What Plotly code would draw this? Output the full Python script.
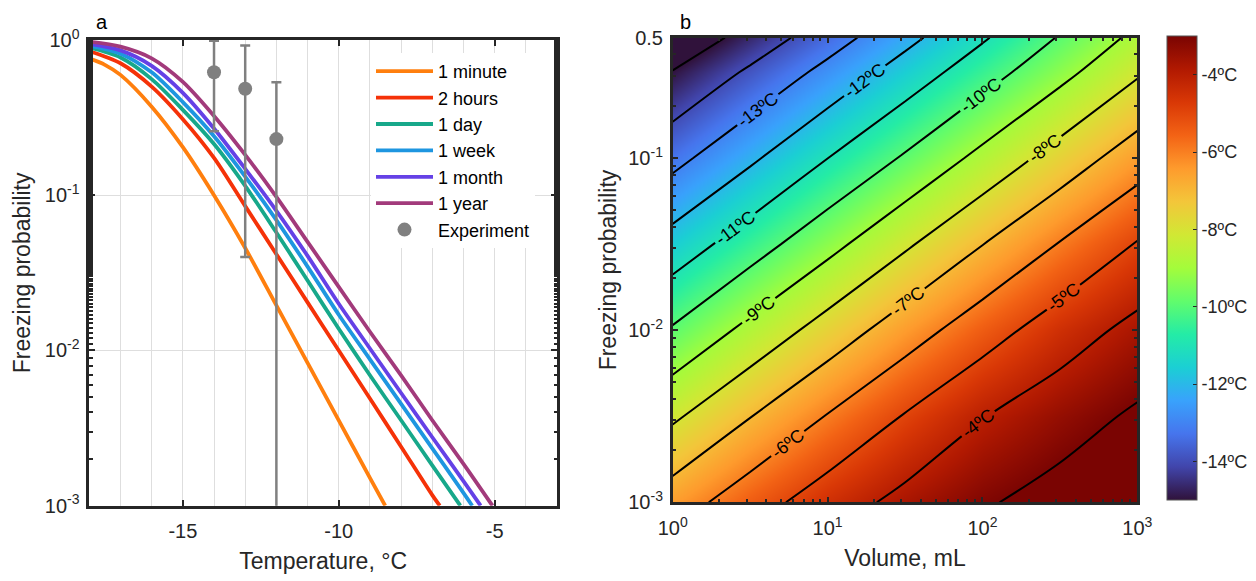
import numpy as np
import plotly.graph_objects as go

# ---------------- Panel a: freezing probability vs temperature ----------------
T_1min = [-18, -17.5, -17, -16, -15, -14, -13, -12, -11, -10, -9, -8.51]
P_1min = [0.762, 0.692, 0.596, 0.372, 0.204, 0.100, 0.0457, 0.0195, 0.00832, 0.00355, 0.00151, 0.001]

T_2h = [-18, -17, -16, -15, -14, -13, -12, -11, -10, -9, -8, -7, -6.76]
P_2h = [0.849, 0.708, 0.501, 0.309, 0.174, 0.0851, 0.0417, 0.0204, 0.0100, 0.00490, 0.00240, 0.00117, 0.001]

T_1d = [-18, -17, -16, -15, -14, -13, -12, -11, -10, -9, -8, -7, -6.10]
P_1d = [0.895, 0.771, 0.560, 0.355, 0.214, 0.115, 0.0575, 0.0282, 0.0138, 0.00692, 0.00355, 0.00182, 0.001]

T_1w = [-18, -17, -16, -15, -14, -13, -12, -11, -10, -9, -8, -7, -6, -5.72]
P_1w = [0.920, 0.817, 0.619, 0.398, 0.240, 0.132, 0.0692, 0.0347, 0.0170, 0.00877, 0.00453, 0.00234, 0.00121, 0.001]

T_1mo = [-18, -17, -16, -15, -14, -13, -12, -11, -10, -9, -8, -7, -6, -5.45]
P_1mo = [0.944, 0.857, 0.682, 0.457, 0.269, 0.148, 0.0794, 0.0407, 0.0200, 0.0103, 0.00532, 0.00276, 0.00144, 0.001]

T_1y = [-18, -17, -16, -15, -14, -13, -12, -11, -10, -9, -8, -7, -6, -5.07]
P_1y = [0.975, 0.906, 0.762, 0.537, 0.324, 0.182, 0.0977, 0.0501, 0.0257, 0.0132, 0.00692, 0.00355, 0.00186, 0.001]

series_names = ["1 minute", "2 hours", "1 day", "1 week", "1 month", "1 year"]
series_colors = ["#FF7F0E", "#F53208", "#17A88A", "#1E96E0", "#6541E6", "#A23A7B"]

exp_T = [-14, -13, -12]
exp_P = [0.62, 0.485, 0.23]
exp_high = [0.99, 0.92, 0.535]
exp_low = [0.258, 0.040, 0.0001]

# ---------------- Panel b: temperature map vs volume and probability ----------------
volume_mL = [1, 3.16, 10, 31.6, 100, 316, 1000]
probability = [0.001, 0.00316, 0.01, 0.0316, 0.1, 0.316, 0.5]
# rows: probability (low -> high), columns: volume (low -> high), values in degC
temperature_C = [
    [-6.49, -5.44, -4.49, -3.72, -3.10, -2.65, -2.24],
    [-8.16, -7.03, -5.95, -4.94, -4.04, -3.41, -2.86],
    [-9.90, -8.73, -7.59, -6.48, -5.44, -4.49, -3.72],
    [-11.60, -10.46, -9.31, -8.15, -7.02, -5.95, -4.94],
    [-13.30, -12.17, -11.01, -9.89, -8.73, -7.59, -6.48],
    [-14.96, -13.85, -12.72, -11.58, -10.44, -9.30, -8.13],
    [-15.79, -14.62, -13.45, -12.28, -11.11, -9.93, -8.76],
]
contour_levels = [-15, -14, -13, -12, -11, -10, -9, -8, -7, -6, -5, -4, -3]
contour_level_text = [f"{v}ºC" for v in contour_levels]

y_ticks_b = [0.001, 0.01, 0.1, 0.5]
y_ticktext_b = ["10<sup>-3</sup>", "10<sup>-2</sup>", "10<sup>-1</sup>", "0.5"]
x_ticks_b = [1, 10, 100, 1000]
x_ticktext_b = ["10<sup>0</sup>", "10<sup>1</sup>", "10<sup>2</sup>", "10<sup>3</sup>"]
cbar_ticks = [-14, -12, -10, -8, -6, -4]
cbar_ticktext = ["-14ºC", "-12ºC", "-10ºC", "-8ºC", "-6ºC", "-4ºC"]

FONT = "Liberation Sans, Arial, sans-serif"
AX = "#262626"
# the page body has an 8px margin; figure is sized to fit in the 1256x581 window
OFF = 8
W, H = 1256 - OFF, 581 - OFF
TICK_FS = 20
TITLE_FS = 23


def px(X):
    return (X - OFF) / W


def py(Y):
    return 1 - (Y - OFF) / H


fig = go.Figure()

all_T = [T_1min, T_2h, T_1d, T_1w, T_1mo, T_1y]
all_P = [P_1min, P_2h, P_1d, P_1w, P_1mo, P_1y]
for name, col, tt, pp in zip(series_names, series_colors, all_T, all_P):
    fig.add_trace(go.Scatter(
        x=tt, y=pp, mode="lines", name=name,
        line=dict(color=col, width=3.8, shape="spline", smoothing=0.8),
        xaxis="x", yaxis="y",
    ))

fig.add_trace(go.Scatter(
    x=exp_T, y=exp_P, mode="markers", name="Experiment",
    marker=dict(color="#808080", size=14),
    error_y=dict(type="data", symmetric=False,
                 array=[h - p for h, p in zip(exp_high, exp_P)],
                 arrayminus=[p - l for p, l in zip(exp_P, exp_low)],
                 color="#808080", thickness=2.5, width=5),
    xaxis="x", yaxis="y",
))

lv = np.log10(volume_mL)
lp = np.log10(probability)

# smooth colour field (also carries the visible, line-free colour bar)
fig.add_trace(go.Heatmap(
    x=lv, y=lp, z=temperature_C, zsmooth="best",
    colorscale="Turbo", zmin=-15, zmax=-3, zauto=False,
    showlegend=False, hoverinfo="skip",
    colorbar=dict(
        x=px(1167), xanchor="left", y=py(500), yanchor="bottom",
        len=464 / H, lenmode="fraction", thickness=30, thicknessmode="pixels",
        ypad=0, xpad=0,
        tickmode="array", tickvals=cbar_ticks, ticktext=cbar_ticktext,
        ticks="inside", ticklen=4,
        tickcolor=AX, tickfont=dict(family=FONT, size=18, color=AX),
        outlinecolor="#555555", outlinewidth=1,
    ),
    xaxis="x2", yaxis="y2",
))

# labelled contour lines; its colour bar (outside the page, no tick labels)
# only provides the "-NºC" text used by the contour labels
fig.add_trace(go.Contour(
    x=lv, y=lp, z=temperature_C,
    colorscale="Turbo", zmin=-15, zmax=-3, zauto=False,
    contours=dict(start=-15, end=-3, size=1, coloring="heatmap",
                  showlabels=True,
                  labelfont=dict(family=FONT, size=18, color="black")),
    line=dict(color="black", width=2),
    showlegend=False,
    colorbar=dict(x=2.5, y=0.5, xanchor="left", yanchor="middle", xpad=0, ypad=0,
                  len=1, lenmode="pixels", thickness=1, thicknessmode="pixels",
                  outlinewidth=0, showticklabels=False, ticks="",
                  tickmode="array", tickvals=contour_levels,
                  ticktext=contour_level_text, ticksuffix="ºC"),
    xaxis="x2", yaxis="y2",
    hoverinfo="skip",
))

minor_x_b = np.log10([m * 10 ** k for k in range(3) for m in range(2, 10)])
minor_y_b = np.log10([m * 10.0 ** k for k in (-3, -2) for m in range(2, 10)] + [0.2, 0.3, 0.4])

common_axis = dict(showline=True, linecolor=AX, linewidth=2.5, mirror="ticks",
                   ticks="inside", tickcolor=AX, ticklen=6, tickwidth=1.5,
                   tickfont=dict(family=FONT, size=TICK_FS, color=AX),
                   zeroline=False, automargin=False)

fig.update_layout(
    width=W, height=H,
    margin=dict(l=0, r=0, t=0, b=0, autoexpand=False),
    paper_bgcolor="white", plot_bgcolor="white",
    font=dict(family=FONT, color=AX),
    showlegend=True,
    legend=dict(x=px(371), y=py(53), xanchor="left", yanchor="top",
                bgcolor="white", borderwidth=0,
                font=dict(family=FONT, size=18, color="black"),
                tracegroupgap=0, itemwidth=57),
    xaxis=dict(domain=[px(89.3), px(557)], range=[-18, -3],
               tickmode="array", tickvals=[-15, -10, -5], ticktext=["-15", "-10", "-5"],
               showgrid=True, gridcolor="#DEDEDE", gridwidth=1,
               minor=dict(tickmode="linear", tick0=-18, dtick=1, showgrid=True,
                          gridcolor="#DEDEDE", gridwidth=1, ticks=""),
               ticklabelstandoff=6,
               title=dict(text="Temperature, °C", font=dict(family=FONT, size=TITLE_FS, color=AX), standoff=12),
               anchor="y", **common_axis),
    yaxis=dict(domain=[py(505.7), py(40)], type="log", range=[-3, 0],
               tickmode="array", tickvals=[0.001, 0.01, 0.1, 1],
               ticktext=["10<sup>-3</sup>", "10<sup>-2</sup>", "10<sup>-1</sup>", "10<sup>0</sup>"],
               showgrid=True, gridcolor="#DEDEDE", gridwidth=1,
               minor=dict(ticks="inside", ticklen=3.5, tickcolor=AX, tickwidth=1.5, showgrid=False),
               ticklabelstandoff=3,
               title=dict(text="Freezing probability", font=dict(family=FONT, size=TITLE_FS, color=AX), standoff=8),
               anchor="x", **common_axis),
    xaxis2=dict(domain=[px(672.7), px(1137.3)], range=[0, 3],
                tickmode="array", tickvals=np.log10(x_ticks_b), ticktext=x_ticktext_b,
                showgrid=False,
                minor=dict(tickmode="array", tickvals=minor_x_b, ticks="inside",
                           ticklen=3.5, tickcolor=AX, tickwidth=1.5, showgrid=False),
                ticklabelstandoff=6,
                title=dict(text="Volume, mL", font=dict(family=FONT, size=TITLE_FS, color=AX), standoff=12),
                anchor="y2", **common_axis),
    yaxis2=dict(domain=[py(502.3), py(37.7)], range=[-3, np.log10(0.5)],
                tickmode="array", tickvals=np.log10(y_ticks_b), ticktext=y_ticktext_b,
                showgrid=False,
                minor=dict(tickmode="array", tickvals=minor_y_b, ticks="inside",
                           ticklen=3.5, tickcolor=AX, tickwidth=1.5, showgrid=False),
                ticklabelstandoff=3,
                title=dict(text="Freezing probability", font=dict(family=FONT, size=TITLE_FS, color=AX), standoff=6),
                anchor="x2", **common_axis),
    annotations=[
        dict(text="a", x=px(94), y=py(9), xref="paper", yref="paper",
             xanchor="left", yanchor="top", showarrow=False,
             font=dict(family=FONT, size=20, color="black")),
        dict(text="b", x=px(678), y=py(9), xref="paper", yref="paper",
             xanchor="left", yanchor="top", showarrow=False,
             font=dict(family=FONT, size=20, color="black")),
    ],
)

fig.write_html("out.html")
